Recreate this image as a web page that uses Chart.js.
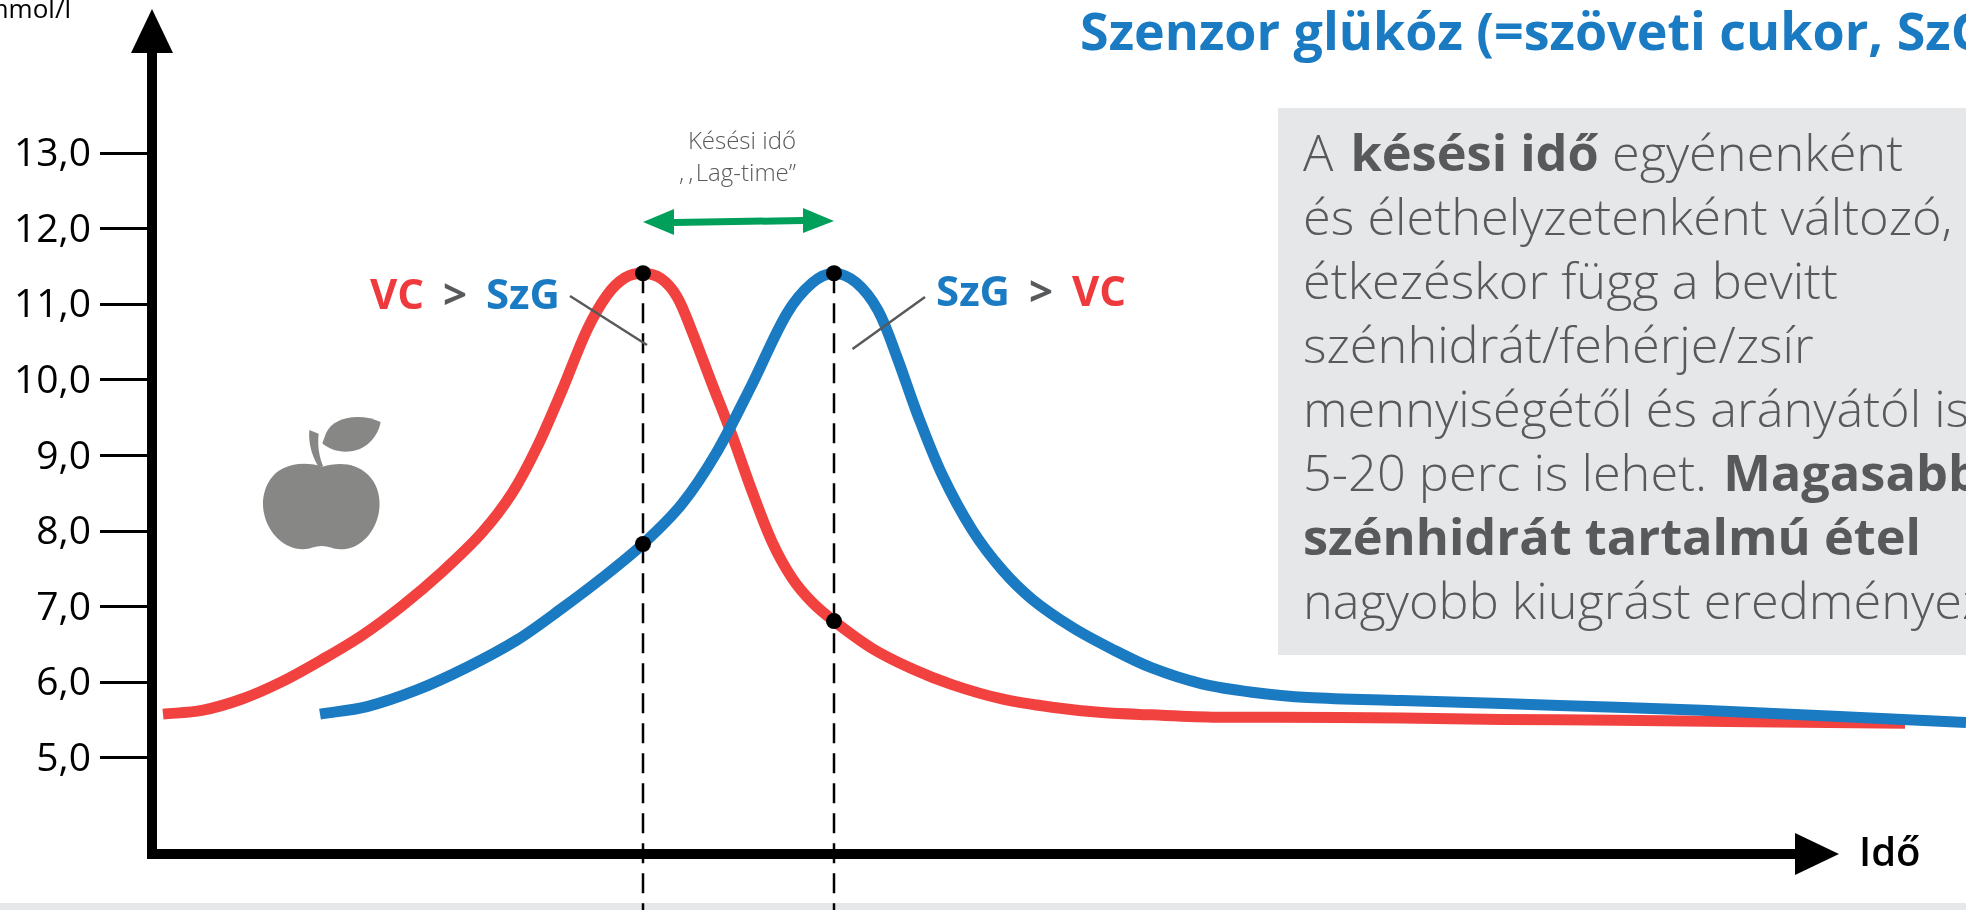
<!DOCTYPE html>
<html lang="hu">
<head>
<meta charset="utf-8">
<title>Szenzor glükóz</title>
<script src="https://cdn.jsdelivr.net/npm/chart.js@4/dist/chart.umd.min.js"></script>
<style>
html,body{margin:0;padding:0;background:#fff;width:1966px;height:910px;overflow:hidden}
#stage{position:relative;width:1966px;height:910px;overflow:hidden;font-family:"Open Sans",sans-serif}
#band{position:absolute;left:0;top:903px;width:1966px;height:7px;background:#e6e7e8}
#box{position:absolute;left:1278px;top:108px;width:688px;height:547px;background:#e6e7e8;overflow:hidden}
#boxText{position:absolute;left:25px;top:12px;white-space:nowrap;font-size:50.5px;line-height:64px;font-weight:300;color:#58595b}
#boxText b{font-weight:700}
canvas{position:absolute;left:0;top:0;display:block}
svg{position:absolute;left:0;top:0}
.t{position:absolute;white-space:nowrap}
#title{left:1080px;top:-2px;font-size:52px;font-weight:700;color:#1a7ac2;line-height:64px}
.lab{font-size:42px;font-weight:700;line-height:50px;color:#58595b;word-spacing:8px}
.r{color:#ee3a3c}.b{color:#1a7ac2}
#lag{left:620px;top:124px;width:176px;text-align:right;font-size:24px;font-weight:300;color:#58595b;line-height:32px}
#unit{right:1895px;top:-10px;font-size:26px;color:#000;line-height:36px}
#ido{left:1859px;top:826px;font-size:40px;font-weight:600;color:#000;line-height:50px}
</style>
</head>
<body>
<div id="stage">
  <div id="band"></div>
  <div id="box"><div id="boxText">A <b style="margin-left:4px">késési idő</b> egyénenként<br>és élethelyzetenként változó,<br>étkezéskor függ a bevitt<br>szénhidrát/fehérje/zsír<br>mennyiségétől és arányától is<br>5-20 perc is lehet. <b style="margin-left:3px">Magasabb</b><br><b>szénhidrát tartalmú étel</b><br>nagyobb kiugrást eredményez.</div></div>
  <canvas id="c" width="1966" height="910"></canvas>
  <svg width="1966" height="910" viewBox="0 0 1966 910">
    <polygon points="131,53 173,53 152,9" fill="#000"/>
    <polygon points="1795,833 1795,875 1839,854" fill="#000"/>
    <rect x="147" y="849" width="10" height="10" fill="#000"/>
    <polygon points="643,222 674,209 674,219 803,217 803,208 834,221 803,233 803,224 674,226 674,235" fill="#00a05b"/>
    <line x1="570" y1="296" x2="647" y2="345" stroke="#58595b" stroke-width="2.5"/>
    <line x1="925" y1="297" x2="852.5" y2="349" stroke="#58595b" stroke-width="2.5"/>
    <g transform="translate(240 400) scale(0.3333)" fill="#878786">
      <path d="M248 200C290 188 345 185 385 225C415 255 425 300 415 345C400 410 350 450 300 448C280 447 265 438 245 438C225 438 210 447 190 448C140 450 85 405 72 340C60 285 85 225 130 205C170 185 215 190 248 200Z"/>
      <path d="M208 90L236 101C232 140 238 170 250 200L234 198C215 165 205 130 208 90Z"/>
      <path d="M422 66C370 40 280 45 258 100L247 130C280 160 340 165 380 135C405 115 418 90 422 66Z"/>
    </g>
  </svg>
  <div class="t" id="title">Szenzor glükóz (=szöveti cukor, SzG)</div>
  <div class="t" id="lag">Késési idő<br>,&#8201;,&#8202;Lag-time”</div>
  <div class="t lab" style="left:370px;top:268px"><span class="r">VC</span> &gt; <span class="b">SzG</span></div>
  <div class="t lab" style="left:936px;top:265px"><span class="b">SzG</span> &gt; <span class="r">VC</span></div>
  <div class="t" id="unit">mmol/l</div>
  <div class="t" id="ido">Idő</div>
</div>
<script>
const yTicks = [5,6,7,8,9,10,11,12,13];
const vcX = [1.1,5,9,13,17,21,25,29,33,36,38.5,41,43.5,45.5,47.3,49.1,50.9,52.5,54,56,58,60,62,64,66,68.2,72,76,80,85,90,95,100,106.5,112.5,125,135,146.4,160,175.3];
const vcY = [5.58,5.63,5.78,6.01,6.30,6.62,7.01,7.46,7.98,8.50,9.11,9.86,10.66,11.12,11.35,11.41,11.34,11.10,10.64,9.95,9.27,8.53,7.86,7.38,7.06,6.81,6.45,6.18,5.97,5.78,5.67,5.60,5.57,5.54,5.54,5.53,5.51,5.50,5.48,5.46];
const szgX = [16.8,21.5,26.5,31.5,36.5,41,45,49.1,53,56.5,60,63.5,66,68.2,70.4,72.6,74.5,76.5,79,82,85,88,92,96,100,105,110,115.6,125,135,146.4,155,181.4];
const szgY = [5.58,5.68,5.90,6.20,6.56,6.98,7.38,7.83,8.36,9.05,9.94,10.88,11.28,11.41,11.29,10.92,10.30,9.56,8.75,8.02,7.49,7.10,6.73,6.44,6.19,5.98,5.87,5.80,5.76,5.72,5.67,5.63,5.47];
const dotX = [49.1,49.1,68.2,68.2];
const dotY = [11.41,7.83,11.41,6.81];
const lagX = [49.1,68.2];
const lagTop = 11.41;
const lagBottom = 2.99;
const yMin = 3.73, yMax = 14.495, xMin = 0, xMax = 164.8;

const zip = (xs, ys) => xs.map((x,i)=>({x, y:ys[i]}));
const curve = {borderWidth:11, pointRadius:0, tension:0.33, capBezierPoints:false, borderCapStyle:'butt', clip:false, fill:false};

new Chart(document.getElementById('c'), {
  type: 'line',
  data: { datasets: [
    { label:'Pontok', data: zip(dotX,dotY), order:0, showLine:false, pointRadius:8, pointBackgroundColor:'#000', pointBorderWidth:0, clip:false },
    { label:'Szenzor glükóz', data: zip(szgX,szgY), order:1, borderColor:'#1a7ac2', ...curve },
    { label:'Vércukor', data: zip(vcX,vcY), order:2, borderColor:'#f14240', ...curve },
    { label:'Késés 1', data: [{x:lagX[0],y:lagTop},{x:lagX[0],y:lagBottom}], order:3, borderColor:'#000', borderWidth:2.5, borderDash:[20,10], pointRadius:0, clip:false },
    { label:'Késés 2', data: [{x:lagX[1],y:lagTop},{x:lagX[1],y:lagBottom}], order:3, borderColor:'#000', borderWidth:2.5, borderDash:[20,10], pointRadius:0, clip:false }
  ]},
  options: {
    responsive:false, animation:false,
    layout:{ padding:{ left:0, top:40, right:166, bottom:0 } },
    plugins:{ legend:{display:false}, title:{display:false}, tooltip:{enabled:false} },
    scales:{
      x:{ type:'linear', min:xMin, max:xMax,
          afterFit(a){ a.height = 56; },
          ticks:{display:false},
          grid:{drawOnChartArea:false, drawTicks:false},
          border:{display:true, color:'#000', width:10} },
      y:{ type:'linear', min:yMin, max:yMax,
          afterFit(a){ a.width = 152; },
          afterBuildTicks(a){ a.ticks = yTicks.map(v=>({value:v})); },
          ticks:{ autoSkip:false, color:'#000', padding:9, labelOffset:2, font:{family:'"Open Sans"', size:39, weight:'400'},
                  callback:v=>v.toFixed(1).replace('.',',') },
          grid:{ drawOnChartArea:false, drawTicks:true, tickLength:52, tickWidth:3, tickColor:'#000' },
          border:{display:true, color:'#000', width:10} }
    }
  }
});
</script>
</body>
</html>
